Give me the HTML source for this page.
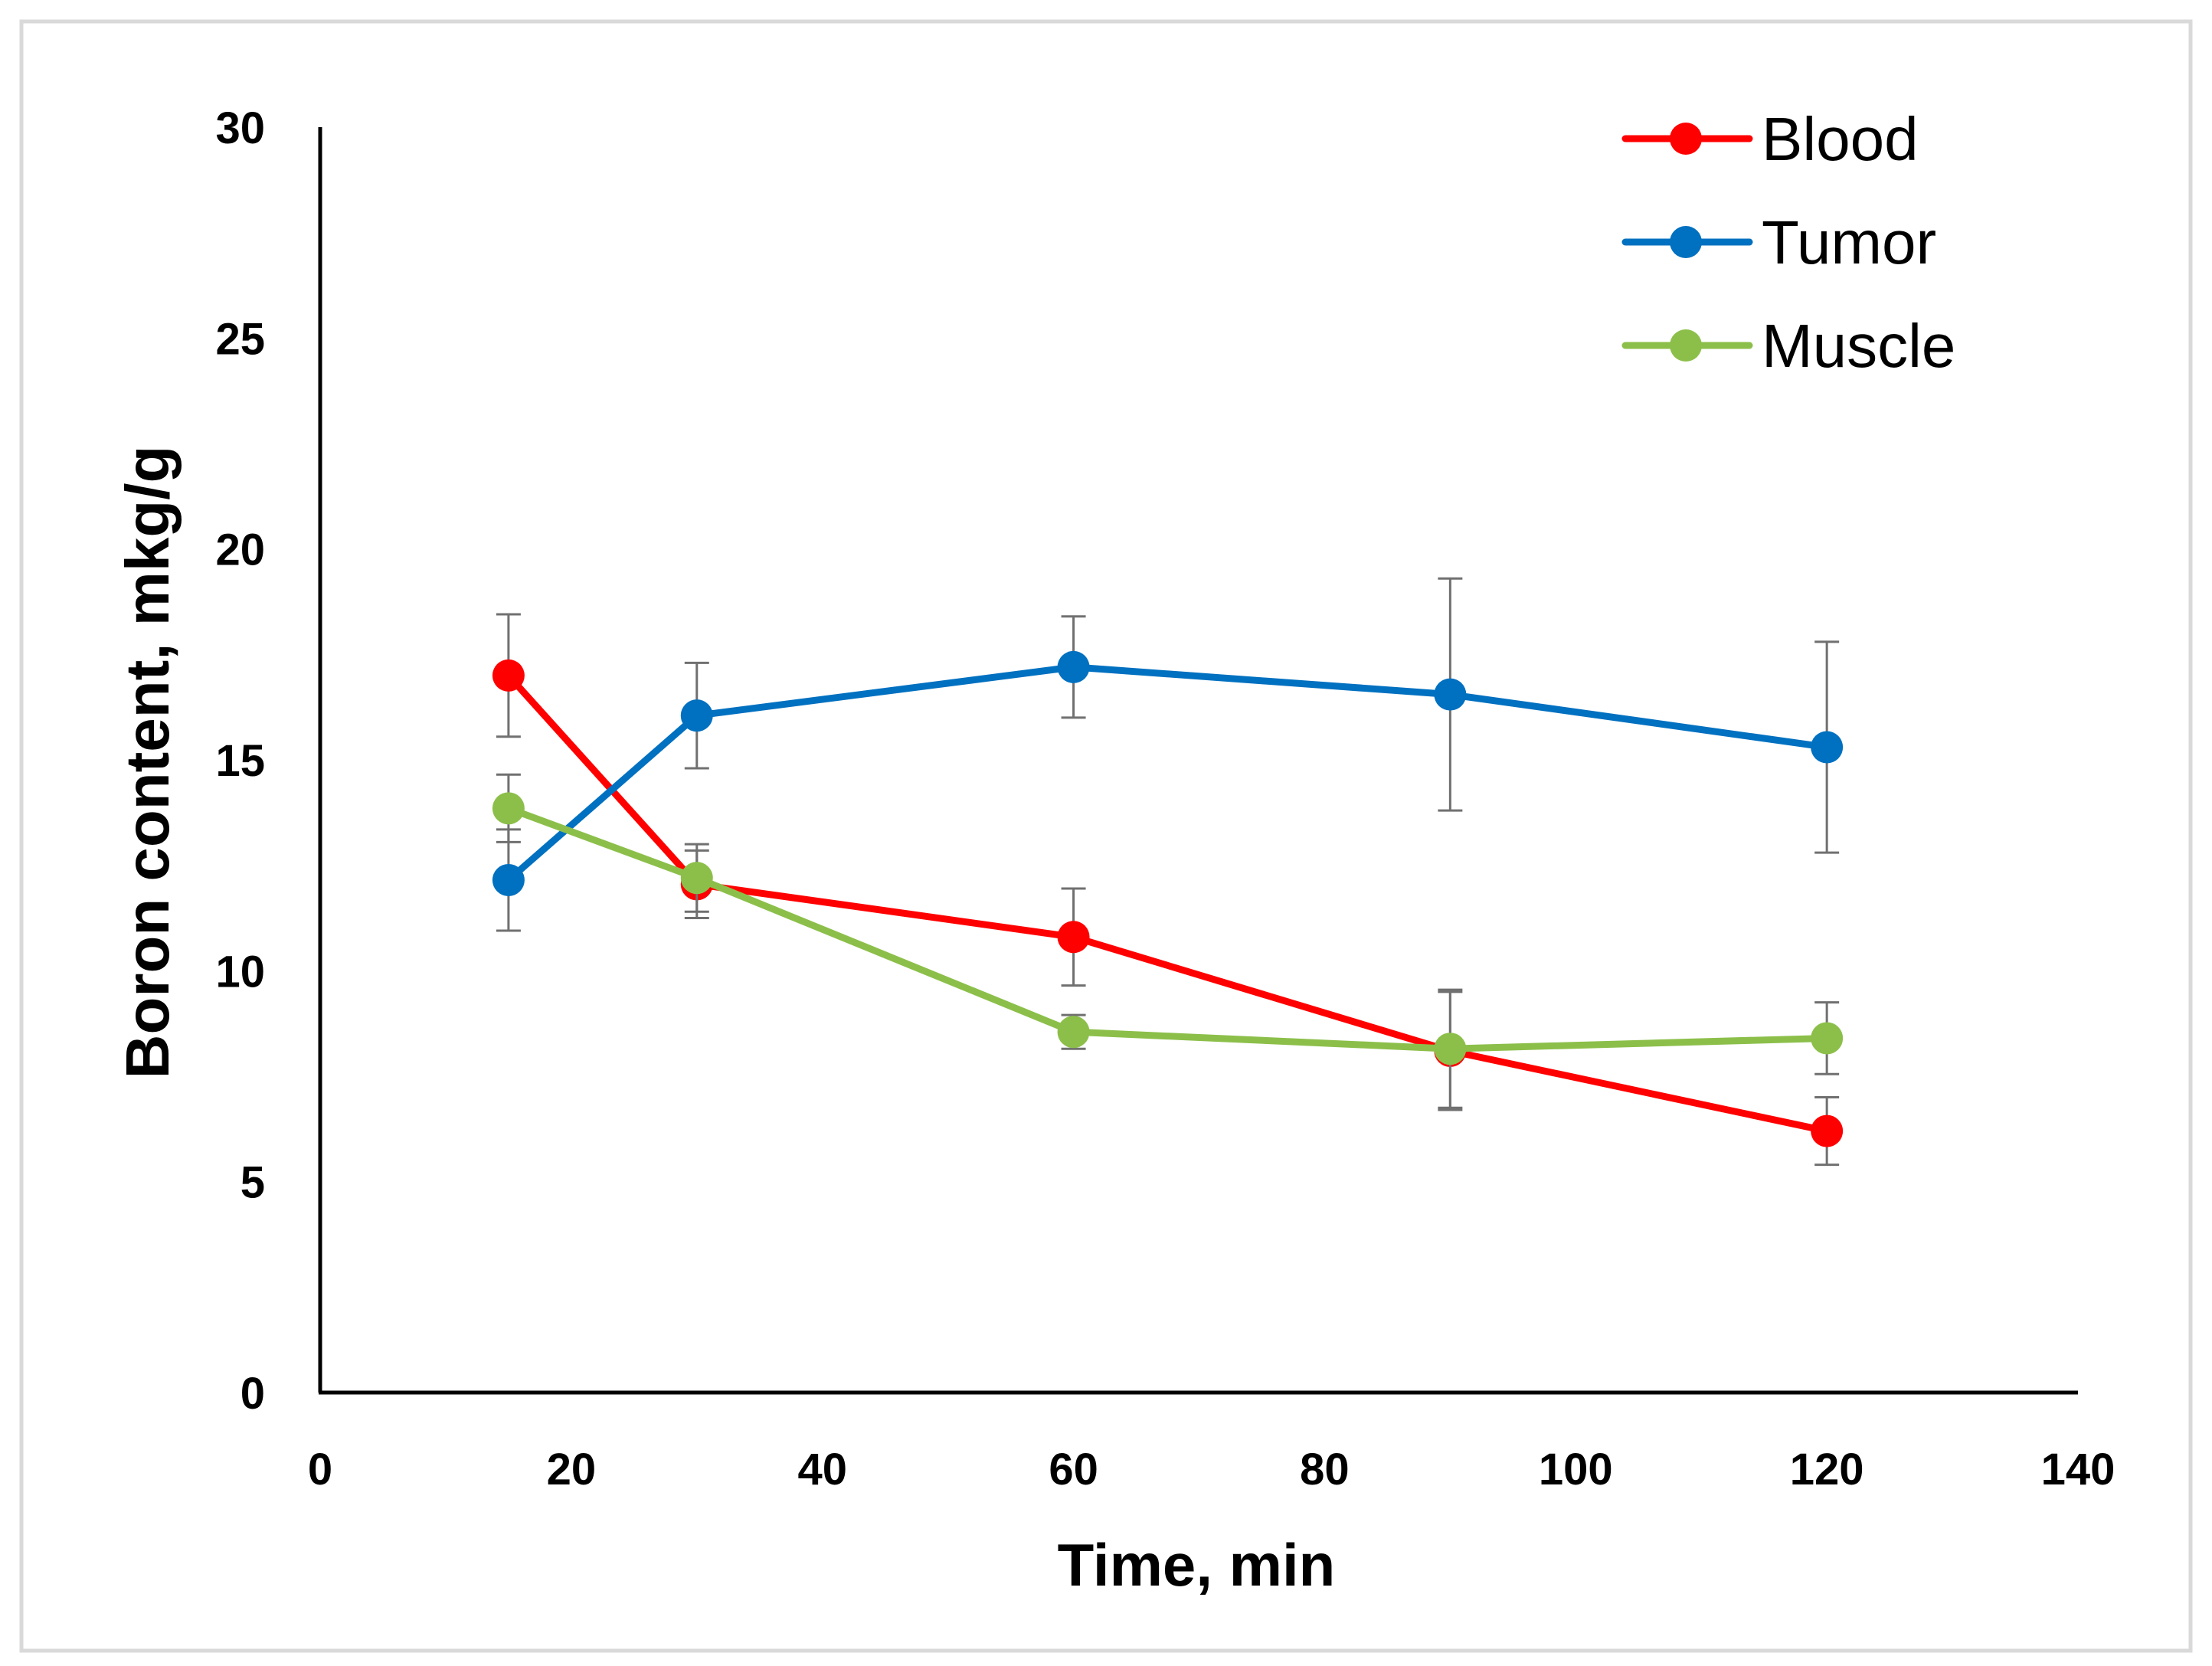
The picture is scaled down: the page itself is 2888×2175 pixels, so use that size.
<!DOCTYPE html>
<html><head><meta charset="utf-8"><style>
html,body{margin:0;padding:0;background:#fff;}
svg{display:block;font-family:"Liberation Sans",sans-serif;}
</style></head><body>
<svg id="chart" width="2888" height="2175" viewBox="0 0 2888 2175">
<rect x="28" y="28" width="2832" height="2127" fill="#fff" stroke="#d9d9d9" stroke-width="5"/>
<g id="grid"></g>
<g id="series"></g>
<text x="1562" y="2070" text-anchor="middle" font-size="78" font-weight="bold">Time, min</text>
<text transform="translate(220,995) rotate(-90)" text-anchor="middle" font-size="80" font-weight="bold">Boron content, mkg/g</text>
<g id="legend"></g>
</svg>
<script>
const times = [15, 30, 60, 90, 120];
const blood = [17.0, 12.05, 10.8, 8.1, 6.2];
const bloodErr = [1.45, 0.8, 1.15, 1.4, 0.8];
const tumor = [12.15, 16.05, 17.2, 16.55, 15.3];
const tumorErr = [1.2, 1.25, 1.2, 2.75, 2.5];
const muscle = [13.85, 12.2, 8.55, 8.15, 8.4];
const muscleErr = [0.8, 0.8, 0.4, 1.4, 0.85];
const xTicks = [0, 20, 40, 60, 80, 100, 120, 140];
const yTicks = [0, 5, 10, 15, 20, 25, 30];
const seriesNames = ["Blood", "Tumor", "Muscle"];
const seriesColors = ["#ff0000", "#0070c0", "#8cbf4a"];

const NS = "http://www.w3.org/2000/svg";
const X0 = 418, X1 = 2713, Y0 = 1818, Y1 = 166;
function xs(v){ return X0 + (v - 0) / 140 * (X1 - X0); }
function ys(v){ return Y0 - (v - 0) / 30 * (Y0 - Y1); }
function mk(tag, attrs, parent){ const e = document.createElementNS(NS, tag); for (const k in attrs) e.setAttribute(k, attrs[k]); parent.appendChild(e); return e; }

const grid = document.getElementById("grid");
const yAxis = mk("line", {x1: X0, y1: Y1, x2: X0, y2: Y0, stroke: "#000", "stroke-width": 5}, grid);


const xAxis = mk("line", {x1: X0 - 2, y1: Y0, x2: X1, y2: Y0, stroke: "#000", "stroke-width": 5}, grid);


yTicks.forEach(v => {
  const t = mk("text", {x: 346, y: ys(v) + 21, "text-anchor": "end", "font-size": 58, "font-weight": "bold"}, grid);
  t.textContent = v;
  
  
});
xTicks.forEach(v => {
  const t = mk("text", {x: xs(v), y: 1938, "text-anchor": "middle", "font-size": 58, "font-weight": "bold"}, grid);
  t.textContent = v;
  
  
});

const sg = document.getElementById("series");
const all = [[blood, bloodErr], [tumor, tumorErr], [muscle, muscleErr]];
all.forEach((s, si) => {
  const vals = s[0], errs = s[1], col = seriesColors[si];
  const g = mk("g", {}, sg);
  
  
  vals.forEach((v, i) => {
    const x = xs(times[i]), yt = ys(v + errs[i]), yb = ys(v - errs[i]);
    const eb = mk("path", {d: `M${x},${yt}V${yb}M${x-16},${yt}H${x+16}M${x-16},${yb}H${x+16}`, stroke: "#707070", "stroke-width": 3, fill: "none"}, g);
    
    
  });
  const pts = vals.map((v, i) => xs(times[i]) + "," + ys(v)).join(" ");
  const pl = mk("polyline", {points: pts, fill: "none", stroke: col, "stroke-width": 9, "stroke-linejoin": "round"}, g);
  
  
  vals.forEach((v, i) => {
    const c = mk("circle", {cx: xs(times[i]), cy: ys(v), r: 21, fill: col}, g);
    
    
  });
});

const lg = document.getElementById("legend");
seriesNames.forEach((n, i) => {
  const y = 181 + i * 135;
  const g = mk("g", {}, lg);
  
  
  mk("line", {x1: 2122, y1: y, x2: 2284, y2: y, stroke: seriesColors[i], "stroke-width": 9, "stroke-linecap": "round"}, g);
  mk("circle", {cx: 2201, cy: y, r: 21, fill: seriesColors[i]}, g);
  const t = mk("text", {x: 2300, y: y + 28, "font-size": 80}, g);
  t.textContent = n;
});
</script>
</body></html>
